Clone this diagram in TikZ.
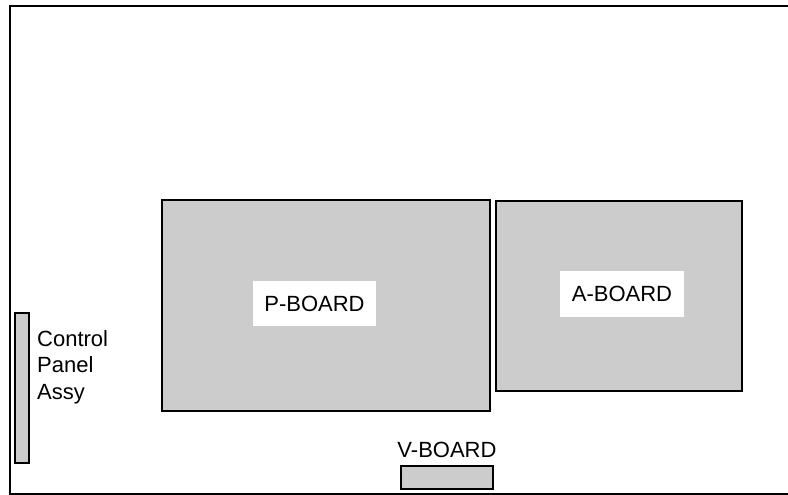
\documentclass[tikz,border=0pt]{standalone}
\usepackage{fontspec}
\setmainfont{Liberation Sans}
\definecolor{boardgray}{HTML}{CCCCCC}
\begin{document}
\begin{tikzpicture}[x=1pt,y=-1pt,
  board/.style={draw=black,line width=2pt,fill=boardgray},
  frame/.style={draw=black,line width=2pt},
  lbl/.style={font=\fontsize{22}{26.5}\selectfont,inner sep=0pt},
  tag/.style={lbl,fill=white}]
\useasboundingbox (0,0) rectangle (788,495);
% outer frame (open on the right)
\draw[frame] (788,6) -- (10,6) -- (10,493.5) -- (788,493.5);
% boards
\draw[board] (161.5,200) rectangle (490,410.5);
\draw[board] (496,201) rectangle (741.5,390.5);
\draw[board] (15,313) rectangle (29.3,462.7);
\draw[board] (401,466) rectangle (493,489);
% labels
\node[tag,minimum width=123pt,minimum height=45pt] (pb) at (314.5,303.5) {P-BOARD};
\node[tag,minimum width=124pt,minimum height=46pt] (ab) at (622,294) {A-BOARD};
\node[lbl] (vb) at (447,449.5) {V-BOARD};
\node[lbl,anchor=base west] (cp1) at (37,346) {Control};
\node[lbl,anchor=base west] (cp2) at (37,372.5) {Panel};
\node[lbl,anchor=base west] (cp3) at (37,399) {Assy};
\end{tikzpicture}
\end{document}
